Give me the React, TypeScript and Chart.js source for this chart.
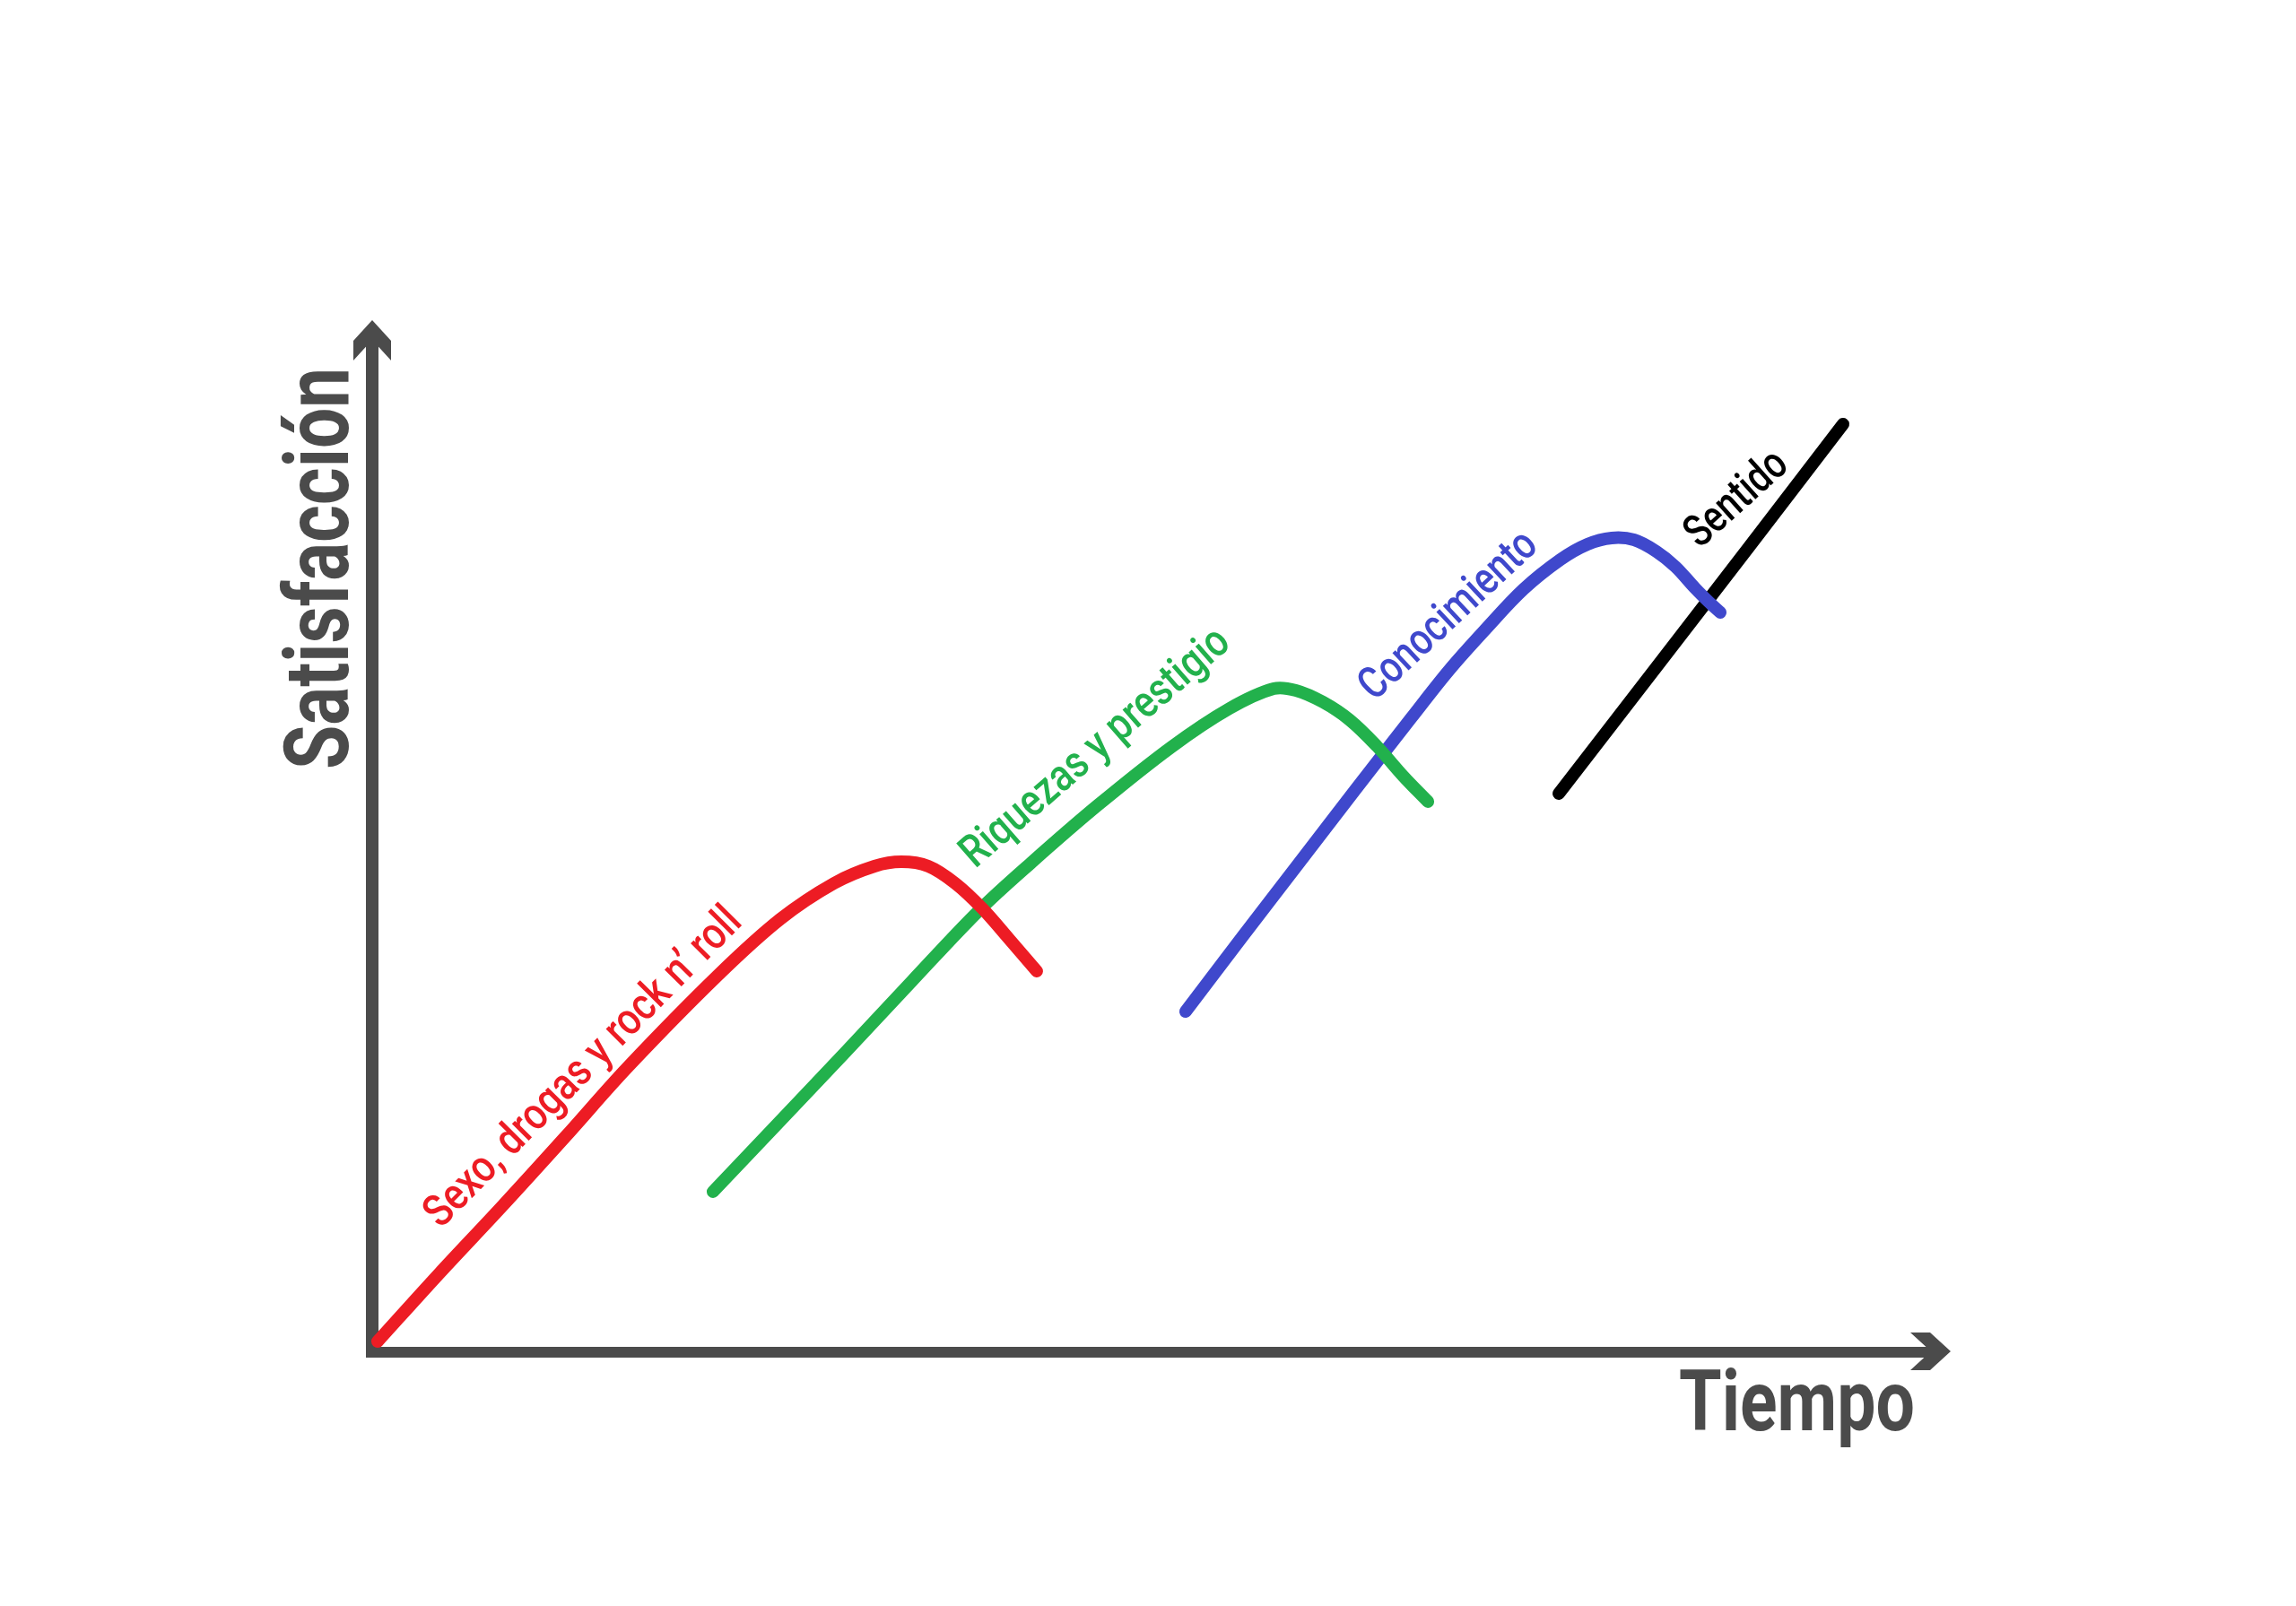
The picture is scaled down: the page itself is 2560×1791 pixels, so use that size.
import React, { useEffect, useRef } from "react";
import { Chart, registerables } from "chart.js";

Chart.register(...registerables);

// ---------- DATA (arbitrary 0–100 units) ----------
const seriesNames = [
  "Sexo, drogas y rock n’ roll",
  "Riquezas y prestigio",
  "Conocimiento",
  "Sentido",
];

const redX = [0.34, 4.26, 8.24, 12.22, 16.19, 21.88, 25.85, 29.26, 31.82, 33.52, 35.23, 36.93, 38.64, 40.34, 42.1];
const redY = [1.04, 7.65, 14.16, 20.85, 27.63, 36.49, 41.96, 45.44, 47.09, 47.52, 47.09, 45.44, 43.01, 40.05, 36.92];

const greenX = [21.59, 25.8, 30.0, 34.2, 38.41, 41.76, 45.97, 50.63, 54.32, 57.1, 58.52, 60.23, 61.93, 63.64, 65.34, 66.88];
const greenY = [15.55, 22.33, 29.11, 35.97, 42.75, 47.44, 53.0, 58.64, 62.38, 64.29, 64.12, 62.99, 61.25, 58.73, 55.78, 53.35];

const blueX = [51.53, 55.11, 58.69, 62.27, 65.85, 68.24, 70.57, 72.95, 75.28, 76.99, 78.52, 79.94, 81.36, 82.56, 83.81, 84.66, 85.4];
const blueY = [33.01, 40.23, 47.35, 54.47, 61.51, 66.12, 70.11, 73.94, 76.8, 78.28, 78.89, 78.71, 77.58, 76.11, 74.02, 72.72, 71.68];

const blackX = [75.17, 81.53, 87.22, 93.18];
const blackY = [54.13, 66.72, 78.02, 89.92];

const xAxisTitle = "Tiempo";
const yAxisTitle = "Satisfacción";

// ---------- STYLE ----------
const W = 2560;
const H = 1791;
const AXIS_COLOR = "#4b4b4b";
const COLORS = ["#ed1c24", "#22b14c", "#3f48cc", "#000000"];
const LINE_W = 14;

// label placement: anchor (data units) of baseline start, angle (deg), target length (px)
const labelPlacement = [
  { ax: 4.35, ay: 11.9, angle: 45.3, len: 480 },
  { ax: 38.2, ay: 46.8, angle: 41, len: 380 },
  { ax: 63.5, ay: 63.0, angle: 43, len: 252 },
  { ax: 84.1, ay: 77.8, angle: 42, len: 136 },
];

function zip(xs: number[], ys: number[]) {
  return xs.map((x, i) => ({ x, y: ys[i] }));
}

const axesPlugin = {
  id: "handAxes",
  beforeDraw(chart: any) {
    const ctx = chart.ctx;
    ctx.save();
    ctx.fillStyle = "#ffffff";
    ctx.fillRect(0, 0, chart.width, chart.height);
    ctx.restore();
  },
  beforeDatasetsDraw(chart: any) {
    const ctx = chart.ctx;
    const xs = chart.scales.x;
    const ys = chart.scales.y;
    const x0 = xs.getPixelForValue(0);
    const xEnd = xs.getPixelForValue(100);
    const y0 = ys.getPixelForValue(0);
    const yEnd = ys.getPixelForValue(100);
    ctx.save();
    ctx.fillStyle = AXIS_COLOR;
    ctx.fillRect(x0 - 7, yEnd + 20, 14, y0 + 6 - (yEnd + 20));
    ctx.fillRect(x0 - 7, y0 - 6, xEnd - 20 - (x0 - 7), 12);
    const px = [
      [-45, -21], [-23, -21], [0, 0], [-23, 21], [-45, 21], [-22, 0],
    ];
    ctx.beginPath();
    px.forEach(([dx, dy], i) => {
      if (i === 0) ctx.moveTo(xEnd + dx, y0 - 1 + dy);
      else ctx.lineTo(xEnd + dx, y0 - 1 + dy);
    });
    ctx.closePath();
    ctx.fill();
    const py = [
      [-21, 45], [-21, 23], [0, 0], [21, 23], [21, 45], [0, 22],
    ];
    ctx.beginPath();
    py.forEach(([dx, dy], i) => {
      if (i === 0) ctx.moveTo(x0 + dx, yEnd + dy);
      else ctx.lineTo(x0 + dx, yEnd + dy);
    });
    ctx.closePath();
    ctx.fill();
    ctx.restore();
  },
  afterDatasetsDraw(chart: any) {
    const ctx = chart.ctx;
    const xs = chart.scales.x;
    const ys = chart.scales.y;
    const { left, right, bottom } = chart.chartArea;

    const drawFit = (
      text: string,
      font: string,
      color: string,
      x: number,
      y: number,
      angleDeg: number,
      len: number
    ) => {
      ctx.save();
      ctx.font = font;
      ctx.fillStyle = color;
      ctx.textAlign = "left";
      ctx.textBaseline = "alphabetic";
      const w = ctx.measureText(text).width;
      ctx.translate(x, y);
      ctx.rotate((-angleDeg * Math.PI) / 180);
      ctx.scale(len / w, 1);
      ctx.fillText(text, 0, 0);
      ctx.restore();
    };

    drawFit(yAxisTitle, "bold 100px Roboto, 'Liberation Sans', sans-serif", AXIS_COLOR, left - 27, bottom - 650, 90, 448);
    drawFit(xAxisTitle, "bold 94px Roboto, 'Liberation Sans', sans-serif", AXIS_COLOR, right - 303, bottom + 87, 0, 263);

    seriesNames.forEach((name, i) => {
      const p = labelPlacement[i];
      drawFit(
        name,
        "500 50px Roboto, 'Liberation Sans', sans-serif",
        COLORS[i],
        xs.getPixelForValue(p.ax),
        ys.getPixelForValue(p.ay),
        p.angle,
        p.len
      );
    });
  },
};

export default function App() {
  const ref = useRef<HTMLCanvasElement | null>(null);

  useEffect(() => {
    document.body.style.margin = "0";
    if (!ref.current) return;
    const series = [zip(redX, redY), zip(greenX, greenY), zip(blueX, blueY), zip(blackX, blackY)];
    const chart = new Chart(ref.current, {
      type: "line",
      data: {
        datasets: series.map((d, i) => ({
          label: seriesNames[i],
          data: d,
          borderColor: COLORS[i],
          backgroundColor: COLORS[i],
          borderWidth: LINE_W,
          borderCapStyle: "round",
          borderJoinStyle: "round",
          pointRadius: 0,
          fill: false,
          tension: 0.35,
          clip: false,
        })) as any,
      },
      options: {
        responsive: false,
        animation: false,
        devicePixelRatio: 1,
        layout: { padding: { left: 415, top: 357, right: 385, bottom: 283 } },
        plugins: {
          legend: { display: false },
          tooltip: { enabled: false },
          title: { display: false },
        },
        scales: {
          x: { type: "linear", min: 0, max: 100, display: false },
          y: { type: "linear", min: 0, max: 100, display: false },
        },
        elements: { point: { radius: 0 } },
      },
      plugins: [axesPlugin as any],
    });
    return () => chart.destroy();
  }, []);

  return (
    <div style={{ position: "fixed", left: 0, top: 0, width: W, height: H, background: "#fff" }}>
      <canvas ref={ref} width={W} height={H} style={{ width: W, height: H, display: "block" }} />
    </div>
  );
}
